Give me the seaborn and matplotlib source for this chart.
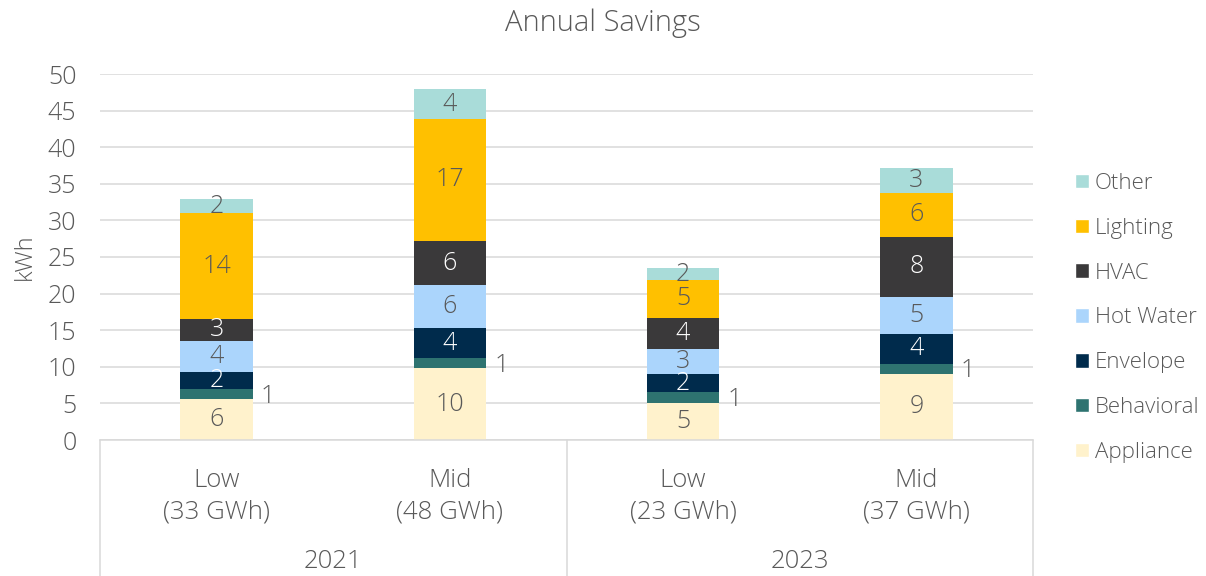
import matplotlib
matplotlib.use("Agg")
import matplotlib.pyplot as plt
from matplotlib.patches import Patch
import seaborn as sns
import pandas as pd

# scenario labels and the year groups they sit under
scenarios = ["Low\n(33 GWh)", "Mid\n(48 GWh)", "Low\n(23 GWh)", "Mid\n(37 GWh)"]
years = ["2021", "2023"]

# kWh per end use (bottom to top)
appliance = [5.56, 9.79, 5.10, 9.06]
behavioral = [1.40, 1.37, 1.41, 1.37]
envelope = [2.36, 4.14, 2.46, 4.10]
hot_water = [4.24, 5.83, 3.46, 5.05]
hvac = [2.96, 6.06, 4.24, 8.19]
lighting = [14.45, 16.66, 5.23, 6.01]
other = [1.90, 4.10, 1.55, 3.37]

series = ["Appliance", "Behavioral", "Envelope", "Hot Water", "HVAC", "Lighting", "Other"]
colors = ["#FFF2CC", "#2E7370", "#002B4C", "#ABD5FC", "#3A393A", "#FFC000", "#A9DCD9"]
text_colors = ["#595959", "#595959", "#FFFFFF", "#595959", "#FFFFFF", "#595959", "#595959"]

GRAY = "#595959"
LINE = "#D9D9D9"

sns.set_style("white")
plt.rcParams["font.family"] = ["Open Sans", "DejaVu Sans"]
plt.rcParams["font.weight"] = "light"

df = pd.DataFrame(dict(zip(series, [appliance, behavioral, envelope, hot_water,
                                    hvac, lighting, other])), index=scenarios)
cum = df.cumsum(axis=1)

fig = plt.figure(figsize=(12.06, 5.76), dpi=100)
ax = fig.add_axes([100 / 1206, 1 - 440 / 576, 933 / 1206, 366 / 576])

# stacked bars: draw cumulative totals from the top down
for s, c in reversed(list(zip(series, colors))):
    sns.barplot(x=scenarios, y=cum[s].values, order=scenarios, color=c,
                saturation=1, width=0.31, errorbar=None, linewidth=0, ax=ax)

# segment labels
for s, tc in zip(series, text_colors):
    for j, sc in enumerate(scenarios):
        v = df.loc[sc, s]
        mid = cum.loc[sc, s] - v / 2
        if s == "Behavioral":
            ax.text(j + 0.19, mid - 0.3, f"{v:.0f}", ha="left", va="center",
                    fontsize=18, color=GRAY)
        else:
            ax.text(j, mid, f"{v:.0f}", ha="center", va="center",
                    fontsize=18, color=tc)

ax.set_ylim(0, 50)
ax.set_xlim(-0.5, 3.5)
ax.set_yticks(range(0, 51, 5))
ax.set_xlabel("")
ax.set_ylabel("")
ax.yaxis.grid(True, color=LINE, linewidth=1.1)
ax.set_axisbelow(True)
sns.despine(ax=ax, left=True)
ax.spines["bottom"].set_color(LINE)
ax.spines["bottom"].set_linewidth(1.1)
ax.tick_params(axis="y", length=0, pad=17, labelsize=18, labelcolor=GRAY)
ax.tick_params(axis="x", length=0, pad=20, labelsize=18.5, labelcolor=GRAY)
for lbl in ax.get_xticklabels():
    lbl.set_linespacing(1.35)

# two-level category axis: dividers and year labels
tr = ax.get_xaxis_transform()
for xv in [-0.5, 1.5, 3.5]:
    ax.plot([xv, xv], [0, -0.38], transform=tr, color=LINE, linewidth=1.1,
            clip_on=False)
for k, yr in enumerate(years):
    ax.text(2 * k + 0.5, -0.333, yr, transform=tr, ha="center", va="center",
            fontsize=18.5, color=GRAY)

fig.text(0.5, 1 - 23 / 576, "Annual Savings", ha="center", va="center",
         fontsize=21, color=GRAY)
fig.text(25 / 1206, 1 - 257 / 576, "kWh", rotation=90, ha="center",
         va="center", fontsize=17, color=GRAY)

handles = [Patch(facecolor=c, label=s) for s, c in zip(series, colors)][::-1]
leg = fig.legend(handles=handles, loc="upper left",
                 bbox_to_anchor=(1075 / 1206, 1 - 173 / 576), frameon=False,
                 fontsize=16, handlelength=0.63, handleheight=0.63,
                 handletextpad=0.25, labelspacing=1.07, borderpad=0,
                 borderaxespad=0)
for t in leg.get_texts():
    t.set_color(GRAY)

fig.savefig("out.png", dpi=100)
